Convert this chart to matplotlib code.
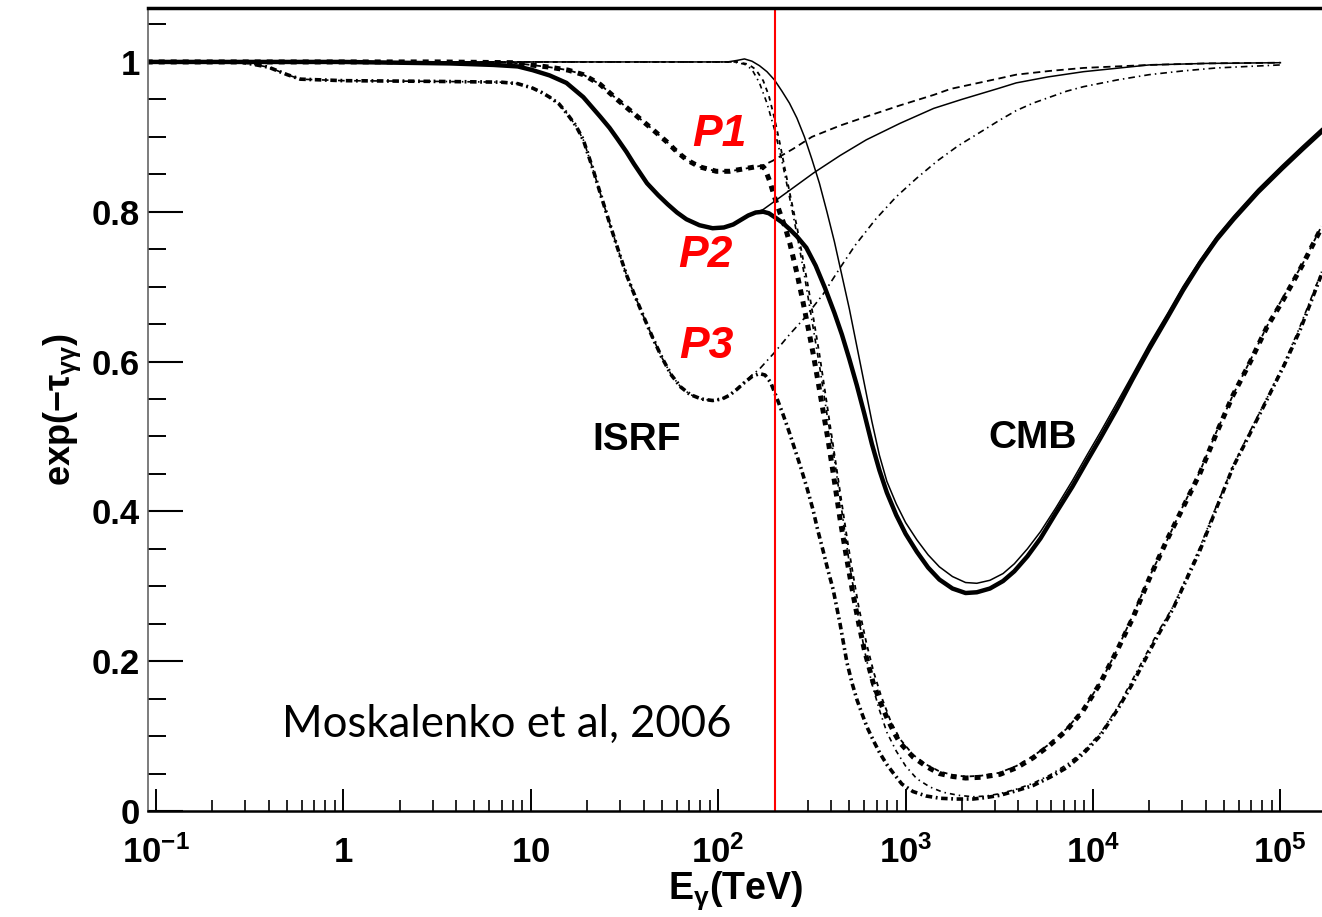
import numpy as np
import matplotlib.pyplot as plt

plt.rcParams['font.family'] = ['Liberation Sans', 'DejaVu Sans']
plt.rcParams['mathtext.fontset'] = 'custom'
plt.rcParams['mathtext.rm'] = 'Liberation Sans'
plt.rcParams['mathtext.bf'] = 'Liberation Sans:bold'
plt.rcParams['mathtext.it'] = 'Liberation Sans:italic'

# log10(E / TeV) and exp(-tau) for each curve
# P1: ISRF only, CMB only, total
log_e_p1_isrf = [-1.05, 0.5, 0.9, 1.10, 1.20, 1.28, 1.37, 1.46, 1.545, 1.64, 1.727, 1.78, 1.834, 1.90, 1.99,
                 2.06, 2.13, 2.20, 2.24, 2.29, 2.40, 2.50, 2.65, 2.79, 2.97, 3.15, 3.24, 3.50, 3.59, 3.77, 3.95,
                 4.30, 4.60, 5.0]
p1_isrf = [1.0, 1.0, 0.999, 0.993, 0.989, 0.983, 0.970, 0.950, 0.932, 0.912, 0.893, 0.880, 0.869, 0.860, 0.854,
           0.854, 0.857, 0.860, 0.862, 0.868, 0.884, 0.900, 0.915, 0.927, 0.942, 0.956, 0.964, 0.978, 0.983, 0.988,
           0.992, 0.996, 0.998, 0.999]

log_e_p1_cmb = [-1.05, 2.10, 2.16, 2.20, 2.24, 2.27, 2.30, 2.33, 2.36, 2.39, 2.42, 2.45, 2.48, 2.51, 2.54, 2.57,
                2.60, 2.63, 2.66, 2.69, 2.72, 2.75, 2.79, 2.83, 2.87, 2.92, 2.97, 3.04, 3.11, 3.18, 3.25, 3.32,
                3.40, 3.50, 3.59, 3.68, 3.77, 3.86, 3.95, 4.04, 4.13, 4.21, 4.30, 4.40, 4.48, 4.57, 4.66, 4.75,
                4.84, 4.93, 5.01, 5.12, 5.22]
p1_cmb = [1.0, 1.0, 0.997, 0.990, 0.975, 0.955, 0.925, 0.890, 0.852, 0.815, 0.780, 0.740, 0.700, 0.655, 0.610, 0.560,
          0.510, 0.460, 0.410, 0.360, 0.315, 0.272, 0.225, 0.185, 0.153, 0.120, 0.096, 0.075, 0.062, 0.053, 0.048,
          0.046, 0.047, 0.051, 0.060, 0.073, 0.090, 0.110, 0.136, 0.172, 0.216, 0.260, 0.312, 0.364, 0.407, 0.453,
          0.507, 0.557, 0.602, 0.648, 0.684, 0.731, 0.781]

log_e_p1_tot = [-1.05, 0.5, 0.9, 1.10, 1.20, 1.28, 1.37, 1.46, 1.545, 1.64, 1.727, 1.78, 1.834, 1.90, 1.99, 2.06,
                2.13, 2.20, 2.24, 2.25, 2.276, 2.30, 2.33, 2.36, 2.383, 2.42, 2.452, 2.48, 2.507, 2.535, 2.559,
                2.585, 2.613, 2.65, 2.687, 2.719, 2.75, 2.78, 2.826, 2.86, 2.901, 2.94, 2.97, 3.04, 3.114, 3.18,
                3.253, 3.32, 3.40, 3.504, 3.594, 3.68, 3.77, 3.86, 3.947, 4.037, 4.128, 4.213, 4.30, 4.395, 4.48,
                4.571, 4.66, 4.747, 4.84, 4.928, 5.014, 5.12, 5.222]
p1_tot = [1.0, 1.0, 0.999, 0.993, 0.989, 0.983, 0.970, 0.950, 0.932, 0.912, 0.893, 0.880, 0.869, 0.860, 0.854, 0.854,
          0.857, 0.860, 0.860, 0.857, 0.840, 0.820, 0.798, 0.777, 0.757, 0.718, 0.680, 0.645, 0.610, 0.570, 0.535,
          0.497, 0.452, 0.390, 0.335, 0.290, 0.250, 0.215, 0.172, 0.148, 0.124, 0.104, 0.091, 0.072, 0.059, 0.050,
          0.046, 0.044, 0.045, 0.049, 0.058, 0.071, 0.088, 0.108, 0.134, 0.170, 0.214, 0.258, 0.310, 0.362, 0.405,
          0.451, 0.505, 0.555, 0.600, 0.646, 0.682, 0.730, 0.780]

# P2: ISRF only, CMB only, total
log_e_p2_isrf = [-1.05, 0.0, 0.57, 0.80, 0.93, 1.01, 1.10, 1.19, 1.28, 1.37, 1.42, 1.46, 1.51, 1.55, 1.62, 1.68,
                 1.73, 1.78, 1.83, 1.90, 1.97, 2.03, 2.08, 2.12, 2.16, 2.20, 2.24, 2.29, 2.40, 2.51, 2.65, 2.79,
                 2.97, 3.15, 3.30, 3.50, 3.59, 3.76, 3.95, 4.30, 4.60, 5.0]
p2_isrf = [1.0, 1.0, 0.998, 0.996, 0.994, 0.989, 0.982, 0.972, 0.953, 0.927, 0.912, 0.898, 0.880, 0.864, 0.838, 0.822,
           0.810, 0.799, 0.790, 0.782, 0.778, 0.779, 0.783, 0.789, 0.795, 0.799, 0.803, 0.812, 0.832, 0.852, 0.875,
           0.896, 0.918, 0.938, 0.950, 0.965, 0.972, 0.980, 0.987, 0.996, 0.998, 0.999]

log_e_p2_cmb = [-1.05, 2.05, 2.10, 2.14, 2.18, 2.22, 2.26, 2.30, 2.34, 2.38, 2.42, 2.46, 2.50, 2.54, 2.58, 2.62,
                2.66, 2.70, 2.74, 2.78, 2.82, 2.86, 2.90, 2.95, 3.00, 3.06, 3.12, 3.18, 3.25, 3.32, 3.38, 3.45,
                3.52, 3.58, 3.65, 3.72, 3.80, 3.89, 3.97, 4.04, 4.13, 4.21, 4.30, 4.40, 4.48, 4.57, 4.66, 4.75,
                4.88, 5.01, 5.12, 5.22]
p2_cmb = [1.0, 1.0, 1.002, 1.004, 1.001, 0.995, 0.987, 0.976, 0.961, 0.945, 0.925, 0.900, 0.870, 0.838, 0.800, 0.760,
          0.715, 0.670, 0.620, 0.570, 0.520, 0.475, 0.440, 0.410, 0.385, 0.362, 0.342, 0.326, 0.313, 0.305, 0.304,
          0.308, 0.317, 0.330, 0.350, 0.373, 0.404, 0.441, 0.476, 0.506, 0.546, 0.582, 0.623, 0.665, 0.700, 0.735,
          0.767, 0.794, 0.830, 0.862, 0.888, 0.911]

log_e_p2_tot = [-1.05, 0.0, 0.57, 0.80, 0.93, 1.01, 1.10, 1.19, 1.28, 1.37, 1.42, 1.46, 1.51, 1.55, 1.62, 1.68,
                1.73, 1.78, 1.83, 1.90, 1.97, 2.03, 2.08, 2.12, 2.16, 2.20, 2.24, 2.27, 2.30, 2.34, 2.38, 2.42,
                2.47, 2.52, 2.57, 2.62, 2.66, 2.70, 2.74, 2.78, 2.82, 2.86, 2.90, 2.95, 3.00, 3.06, 3.12, 3.18,
                3.25, 3.32, 3.38, 3.45, 3.52, 3.58, 3.65, 3.72, 3.80, 3.89, 3.97, 4.04, 4.13, 4.21, 4.30, 4.40,
                4.48, 4.57, 4.66, 4.75, 4.88, 5.01, 5.12, 5.22]
p2_tot = [1.0, 1.0, 0.998, 0.996, 0.994, 0.989, 0.982, 0.972, 0.953, 0.927, 0.912, 0.898, 0.880, 0.864, 0.838, 0.822,
          0.810, 0.799, 0.790, 0.782, 0.778, 0.779, 0.783, 0.789, 0.795, 0.799, 0.800, 0.798, 0.793, 0.786, 0.777,
          0.767, 0.752, 0.728, 0.698, 0.665, 0.636, 0.603, 0.568, 0.530, 0.490, 0.455, 0.425, 0.395, 0.370, 0.346,
          0.325, 0.309, 0.297, 0.291, 0.292, 0.297, 0.307, 0.320, 0.340, 0.364, 0.397, 0.433, 0.468, 0.498, 0.538,
          0.576, 0.617, 0.660, 0.695, 0.731, 0.763, 0.790, 0.826, 0.858, 0.884, 0.907]

# P3: ISRF only, CMB only, total
log_e_p3_isrf = [-1.05, -0.55, -0.40, -0.30, -0.23, 0.0, 0.5, 0.84, 0.93, 1.01, 1.06, 1.10, 1.15, 1.19, 1.24,
                 1.28, 1.33, 1.37, 1.43, 1.47, 1.51, 1.55, 1.60, 1.65, 1.70, 1.75, 1.80, 1.85, 1.91, 1.97, 2.02,
                 2.06, 2.10, 2.14, 2.18, 2.22, 2.30, 2.38, 2.46, 2.56, 2.65, 2.73, 2.84, 2.95, 3.06, 3.17, 3.28,
                 3.41, 3.50, 3.59, 3.68, 3.77, 3.86, 3.95, 4.13, 4.30, 4.48, 4.66, 4.83, 5.0]
p3_isrf = [1.0, 1.0, 0.993, 0.983, 0.977, 0.975, 0.974, 0.973, 0.971, 0.965, 0.959, 0.953, 0.944, 0.932, 0.915,
           0.896, 0.858, 0.825, 0.777, 0.746, 0.716, 0.691, 0.661, 0.632, 0.605, 0.582, 0.566, 0.556, 0.550, 0.548,
           0.550, 0.555, 0.563, 0.572, 0.582, 0.590, 0.612, 0.636, 0.658, 0.690, 0.725, 0.755, 0.790, 0.820, 0.845,
           0.868, 0.888, 0.908, 0.922, 0.935, 0.945, 0.953, 0.961, 0.967, 0.976, 0.983, 0.988, 0.992, 0.994, 0.996]

log_e_p3_cmb = [-1.05, 2.08, 2.14, 2.18, 2.22, 2.26, 2.30, 2.34, 2.38, 2.42, 2.46, 2.50, 2.54, 2.58, 2.62, 2.66,
                2.70, 2.74, 2.78, 2.82, 2.86, 2.90, 2.95, 3.00, 3.06, 3.13, 3.20, 3.28, 3.36, 3.43, 3.50, 3.59,
                3.68, 3.77, 3.86, 3.95, 4.04, 4.13, 4.21, 4.34, 4.43, 4.57, 4.66, 4.75, 4.84, 4.93, 5.02, 5.10,
                5.22]
p3_cmb = [1.0, 1.0, 0.997, 0.990, 0.972, 0.945, 0.910, 0.868, 0.820, 0.770, 0.715, 0.655, 0.595, 0.530, 0.470, 0.400,
          0.330, 0.270, 0.215, 0.170, 0.135, 0.105, 0.080, 0.060, 0.043, 0.032, 0.025, 0.021, 0.019, 0.020, 0.023,
          0.029, 0.037, 0.048, 0.062, 0.080, 0.104, 0.138, 0.175, 0.236, 0.274, 0.352, 0.408, 0.462, 0.508, 0.552,
          0.598, 0.644, 0.720]

log_e_p3_tot = [-1.05, -0.55, -0.40, -0.30, -0.23, 0.0, 0.5, 0.84, 0.93, 1.01, 1.06, 1.10, 1.15, 1.19, 1.24,
                1.28, 1.33, 1.37, 1.43, 1.47, 1.51, 1.55, 1.60, 1.65, 1.70, 1.75, 1.80, 1.85, 1.91, 1.97, 2.02,
                2.06, 2.10, 2.14, 2.18, 2.22, 2.25, 2.28, 2.31, 2.345, 2.38, 2.41, 2.44, 2.475, 2.506, 2.53, 2.559,
                2.585, 2.613, 2.65, 2.687, 2.715, 2.741, 2.77, 2.794, 2.83, 2.863, 2.90, 2.933, 2.98, 3.039, 3.11,
                3.184, 3.27, 3.36, 3.43, 3.504, 3.59, 3.68, 3.77, 3.861, 3.95, 4.037, 4.13, 4.213, 4.341, 4.427,
                4.571, 4.66, 4.747, 4.84, 4.928, 5.02, 5.105, 5.222]
p3_tot = [1.0, 1.0, 0.993, 0.983, 0.977, 0.975, 0.974, 0.973, 0.971, 0.965, 0.959, 0.953, 0.944, 0.932, 0.915,
          0.896, 0.858, 0.825, 0.777, 0.746, 0.716, 0.691, 0.661, 0.632, 0.605, 0.582, 0.566, 0.556, 0.550, 0.548,
          0.550, 0.555, 0.563, 0.572, 0.580, 0.584, 0.582, 0.572, 0.553, 0.530, 0.505, 0.482, 0.459, 0.430, 0.402,
          0.376, 0.348, 0.322, 0.296, 0.250, 0.198, 0.170, 0.148, 0.128, 0.112, 0.093, 0.077, 0.062, 0.051, 0.036,
          0.026, 0.020, 0.017, 0.016, 0.016, 0.018, 0.021, 0.027, 0.034, 0.045, 0.058, 0.077, 0.100, 0.135, 0.171,
          0.232, 0.270, 0.348, 0.405, 0.459, 0.505, 0.549, 0.595, 0.642, 0.718]

x_ticks = [0.1, 1, 10, 100, 1000, 1e4, 1e5]
x_tick_labels = [r'$\mathbf{10^{-1}}$', r'$\mathbf{1}$', r'$\mathbf{10}$', r'$\mathbf{10^{2}}$',
                 r'$\mathbf{10^{3}}$', r'$\mathbf{10^{4}}$', r'$\mathbf{10^{5}}$']
y_ticks = [0, 0.2, 0.4, 0.6, 0.8, 1.0]
y_tick_labels = ['0', '0.2', '0.4', '0.6', '0.8', '1']
cut_energy = 200  # TeV

W, H = 1322, 917
fig = plt.figure(figsize=(W / 100, H / 100), dpi=100)
ax = fig.add_axes([148 / W, 1 - 811 / H, 1 - 148 / W, (811 - 8) / H])


def E(log_e):
    return 10 ** np.asarray(log_e)


# ISRF-only curves (thin)
ax.plot(E(log_e_p1_isrf), p1_isrf, color='k', lw=1.3, dashes=(4, 2.5))
ax.plot(E(log_e_p2_isrf), p2_isrf, color='k', lw=1.1)
ax.plot(E(log_e_p3_isrf), p3_isrf, color='k', lw=1.2, dashes=(4, 2.4, 0.9, 2.4))
# CMB-only curves (thin)
ax.plot(E(log_e_p1_cmb), p1_cmb, color='k', lw=1.3, dashes=(2.5, 2.5))
ax.plot(E(log_e_p2_cmb), p2_cmb, color='k', lw=1.1)
ax.plot(E(log_e_p3_cmb), p3_cmb, color='k', lw=1.2, dashes=(3, 2.4, 0.9, 2.4))
# totals (thick)
ax.plot(E(log_e_p1_tot), p1_tot, color='k', lw=3.6, dashes=(1.2, 1.2), solid_capstyle='butt')
ax.plot(E(log_e_p2_tot), p2_tot, color='k', lw=3.2)
ax.plot(E(log_e_p3_tot), p3_tot, color='k', lw=2.6, dashes=(1.8, 1.0, 0.5, 1.0))

ax.axvline(cut_energy, color='red', lw=1.5)

ax.set_xscale('log')
ax.set_xlim(10 ** -1.043, 10 ** 5.222)
ax.set_ylim(0, 1.072)

ax.set_xticks(x_ticks, x_tick_labels)
ax.set_yticks(y_ticks, y_tick_labels)
ax.set_yticks(np.arange(0.05, 1.07, 0.05), minor=True)
ax.tick_params(axis='x', which='major', direction='in', length=16, width=1.4, labelsize=25, pad=37)
ax.tick_params(axis='x', which='minor', direction='in', length=8, width=1.2)
ax.tick_params(axis='y', which='major', direction='in', length=25, width=1.5, labelsize=25, pad=6)
ax.tick_params(axis='y', which='minor', direction='in', length=13, width=1.4)
for lab in ax.get_xticklabels():
    lab.set_verticalalignment('baseline')
for lab in ax.get_yticklabels():
    lab.set_fontweight('bold')

ax.spines['right'].set_visible(False)
ax.spines['top'].set_linewidth(2.5)
ax.spines['bottom'].set_linewidth(1.8)
ax.spines['left'].set_linewidth(1.2)
ax.spines['left'].set_color('#666666')

ax.set_xlabel(r'$\mathbf{E_{\gamma}(TeV)}$', fontsize=27, labelpad=0)
ax.set_ylabel(r'$\mathbf{exp(-\tau_{\gamma\gamma})}$', fontsize=26, labelpad=6)

ax.text(36.9, 0.495, 'ISRF', fontsize=28, fontweight='bold', ha='center', va='center')
ax.text(4786, 0.498, 'CMB', fontsize=28, fontweight='bold', ha='center', va='center')
for name, x, y in [('P1', 102, 0.903), ('P2', 85, 0.742), ('P3', 87, 0.62)]:
    ax.text(x, y, name, fontsize=32, fontweight='bold', fontstyle='italic', color='red',
            ha='center', va='center')
ax.text(7.46, 0.115, 'Moskalenko et al, 2006', fontsize=31.5, family='Lato', ha='center', va='center')

fig.savefig('out.png', dpi=100)
